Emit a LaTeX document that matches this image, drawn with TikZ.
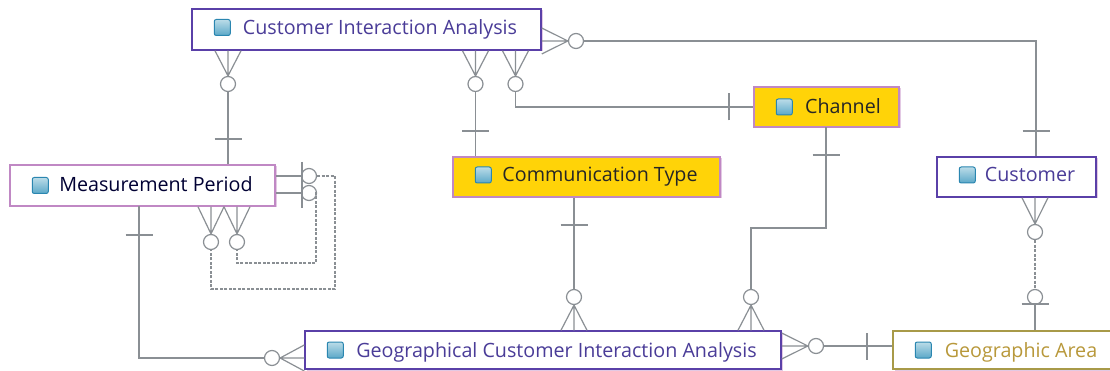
\documentclass[tikz,border=0pt]{standalone}
\usepackage{fontspec}
\setmainfont{Open Sans}
\usetikzlibrary{shadows}
\definecolor{relgray}{HTML}{8A8F94}
\definecolor{boxpurple}{HTML}{5A40A8}
\definecolor{boxpink}{HTML}{C088C4}
\definecolor{boxolive}{HTML}{A89A48}
\definecolor{keyyellow}{HTML}{FFD308}
\definecolor{textpurple}{HTML}{4A3C98}
\definecolor{textgold}{HTML}{B8983A}
\definecolor{icontop}{HTML}{BBDCE8}
\definecolor{iconbottom}{HTML}{5BA8C8}
\definecolor{iconedge}{HTML}{2A86B0}
\tikzset{
    entity/.style = {draw, line width=1.5pt, minimum height=40pt, inner sep=0pt, text height=14pt, text depth=4pt,
        font=\fontsize{19.7}{23}\selectfont, execute at begin node={\hspace*{27pt}},
        drop shadow={shadow xshift=1.5pt, shadow yshift=-1.5pt, fill=boxpink!45, opacity=1}},
    icon/.style = {rounded corners=2pt, minimum size=16pt, inner sep=0pt,
        top color=icontop, bottom color=iconbottom, draw=iconedge, line width=1pt},
    optional/.style = {draw=relgray, line width=1.2pt, circle, fill=white, minimum size=15pt, inner sep=0pt},
    rel/.style = {draw=relgray, line width=1.2pt},
    reldash/.style = {rel, dash pattern=on 3pt off 1.5pt}
}
\newcommand{\crowv}[3]{\draw[rel] ([xshift=-13pt]#1 |- #3) -- (#1.#2) -- ([xshift=13pt]#1 |- #3) (#1 |- #3) -- (#1.#2);}
\newcommand{\crowh}[3]{\draw[rel] ([yshift=13pt]#1 -| #3) -- (#1.#2) -- ([yshift=-13pt]#1 -| #3) (#1 -| #3) -- (#1.#2);}
\newcommand{\tickh}[1]{\draw[rel] ([xshift=-13.5pt]#1) -- ([xshift=13.5pt]#1);}
\newcommand{\tickv}[1]{\draw[rel] ([yshift=-13.5pt]#1) -- ([yshift=13.5pt]#1);}
\begin{document}
\begin{tikzpicture}[x=1pt, y=-1pt]
    \useasboundingbox (0, 0) rectangle (1110, 371);

    \node (cia) [entity, draw=boxpurple, fill=white, text=textpurple, minimum width=349pt, minimum height=41pt] at (366.5, 29.5) {Customer Interaction Analysis};
    \node (mp) [entity, draw=boxpink, fill=white, text=black!80!blue, minimum width=265pt, minimum height=41pt, text height=17pt] at (142.5, 185.5) {Measurement Period};
    \node (ct) [entity, draw=boxpink, fill=keyyellow, text=black!85, minimum width=267pt] at (586.5, 177) {Communication Type};
    \node (ch) [entity, draw=boxpink, fill=keyyellow, text=black!85, minimum width=145pt, text height=18pt] at (826.5, 107) {\hspace*{6pt}Channel};
    \node (cu) [entity, draw=boxpurple, fill=white, text=textpurple, minimum width=159pt] at (1016.5, 177) {Customer};
    \node (gcia) [entity, draw=boxpurple, fill=white, text=textpurple, minimum width=476pt, minimum height=38pt, text height=18pt] at (543, 350) {Geographical Customer Interaction Analysis};
    \node (ga) [entity, draw=boxolive, fill=white, text=textgold, minimum width=229pt, minimum height=38pt, text height=18pt] at (1007.5, 350) {Geographic Area};

    \foreach \n/\up in {cia/2, mp/0, ct/2, ch/0, cu/2, gcia/0, ga/0}
        \node (\n icon) [icon] at ([xshift=31pt, yshift=\up pt]\n.west) {};

    \draw[rel]
        (228, 84)    node (c1) [optional] {}
        (475.5, 84)  node (c2) [optional] {}
        (515.5, 84)  node (c3) [optional] {}
        (576, 41)    node (c4) [optional] {}
        (574, 297)   node (c5) [optional] {}
        (751, 297)   node (c6) [optional] {}
        (272, 358)   node (c7) [optional] {}
        (816, 346)   node (c8) [optional] {}
        (1035, 232)  node (c9) [optional] {}
        (1035, 297)  node (c10) [optional] {}
        (309, 176)   node (c11) [optional] {}
        (309, 193)   node (c12) [optional] {}
        (211, 242)   node (c13) [optional] {}
        (237, 242)   node (c14) [optional] {}

        (c1) -- (c1 |- mp.north)
        (c2) -- (c2 |- ct.north)
        (c3) |- (ch.west)
        (c4) -| (cu.north -| 1036, 0)
        (c5) -- (c5 |- ct.south)
        (c6) |- (826, 228) -- (826, 127)
        (c7) -| (139, 206)
        (c8) -- (c8 -| ga.west)
        (c10 |- ga.north) -- (1035, 304)
        (c11) -- (c11 -| mp.east)
        (c12) -- (c12 -| mp.east);

    \crowv{c1}{north}{cia.south}
    \crowv{c2}{north}{cia.south}
    \crowv{c3}{north}{cia.south}
    \crowh{c4}{west}{cia.east}
    \crowv{c5}{south}{gcia.north}
    \crowv{c6}{south}{gcia.north}
    \crowh{c7}{east}{gcia.west}
    \crowh{c8}{west}{gcia.east}
    \crowv{c9}{north}{cu.south}
    \crowv{c13}{north}{mp.south}
    \crowv{c14}{north}{mp.south}

    \coordinate (t1) at (228, 139);
    \coordinate (t2) at (475.5, 131);
    \coordinate (t3) at (729, 107);
    \coordinate (t4) at (1036, 131);
    \coordinate (t5) at (574, 225);
    \coordinate (t6) at (826, 155);
    \coordinate (t7) at (139, 235);
    \coordinate (t8) at (867, 346);
    \coordinate (t9) at (1035, 304);
    \tickh{t1}
    \tickh{t2}
    \tickv{t3}
    \tickh{t4}
    \tickh{t5}
    \tickh{t6}
    \tickh{t7}
    \tickv{t8}
    \tickh{t9}
    \draw[rel] (302, 162) -- (302, 208);

    \draw[reldash] (c9) -- (c10);
    \draw[reldash] (c11.east) -| (335, 289) -| (c13.south);
    \draw[reldash] (c12.east) -| (316, 263) -| (c14.south);
\end{tikzpicture}
\end{document}
